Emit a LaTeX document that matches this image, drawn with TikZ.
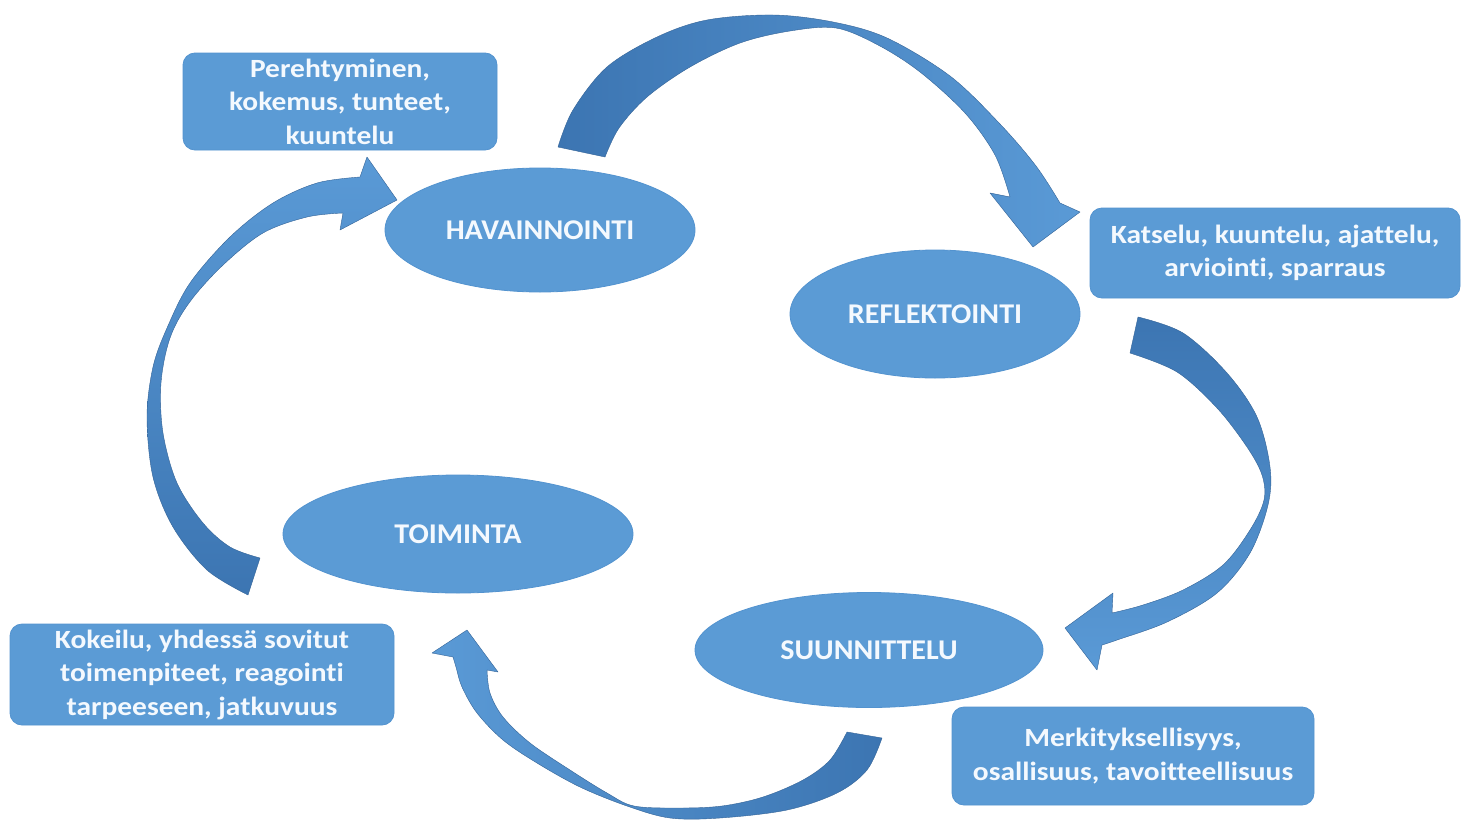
\documentclass[tikz,border=0pt]{standalone}
\usepackage{fontspec}
\setmainfont{Carlito}[Ligatures=NoCommon]
\newfontfamily\boxfont{Carlito}[FakeStretch=1.12, Ligatures=NoCommon]
\newfontfamily\ellfont{Carlito}[FakeStretch=1.05, Ligatures=NoCommon]
\usetikzlibrary{shapes.geometric}
\definecolor{ofblue}{HTML}{5B9BD5}
\definecolor{ofedge}{HTML}{5393CF}
\definecolor{arrdark}{HTML}{3C75B2}
\definecolor{arrlight}{HTML}{5A9AD6}
\definecolor{txt}{HTML}{F4F9FE}
\tikzset{
  ell/.style={ellipse, fill=ofblue, draw=ofedge, line width=0.8pt, text=txt, inner sep=0pt, font=\ellfont\bfseries\fontsize{28.6}{31}\selectfont},
  infobox/.style={rectangle, rounded corners=12pt, fill=ofblue, draw=ofedge, line width=0.8pt, text=txt, inner sep=0pt, align=center, font=\boxfont\bfseries\fontsize{26.3}{33.5}\selectfont},
  cyclearrow/.style={draw=arrdark!85!black, line width=0.4pt, line join=round}
}
\begin{document}
\begin{tikzpicture}[x=1pt,y=-1pt]
\useasboundingbox[fill=white] (0,0) rectangle (1461,819);

% curved arrows
\shade[cyclearrow, left color=arrdark, right color=arrlight]
  plot[smooth, tension=0.55] coordinates {(558,147) (573,110) (607,67) (657,37) (707,20) (773,15) (833,22) (887,38) (950,76) (1000,124) (1036,166) (1060,203)}
  -- (1080,212) -- (1033,247) -- (990,193) -- (1010,197)
  -- plot[smooth, tension=0.55] coordinates {(1010,197) (995,155) (965,113) (920,72) (878,45) (836,28) (790,31) (740,43) (690,67) (647,97) (619,128) (605,157)}
  -- cycle;

\shade[cyclearrow, top color=arrdark, bottom color=arrlight]
  plot[smooth, tension=0.55] coordinates {(1138,317) (1183,333) (1227,373) (1257,417) (1270,467) (1268,505) (1250,553) (1217,593) (1167,622) (1117,640) (1102,645)}
  -- (1097,670) -- (1065,628) -- (1113,593) -- (1112,613)
  -- plot[smooth, tension=0.55] coordinates {(1112,613) (1143,605) (1183,590) (1223,565) (1250,530) (1264,500) (1262,475) (1247,447) (1217,408) (1177,372) (1130,353)}
  -- cycle;

\shade[cyclearrow, left color=arrlight, right color=arrdark]
  plot[smooth, tension=0.55] coordinates {(882,738) (867,770) (837,793) (787,810) (720,818) (670,818) (627,806) (580,787) (537,763) (503,740) (477,713) (462,687) (456,667) (453,657)}
  -- (432,653) -- (467,630) -- (498,672) -- (487,670)
  -- plot[smooth, tension=0.55] coordinates {(487,670) (490,693) (503,717) (530,743) (570,770) (607,793) (634,806) (680,808) (722,806) (763,797) (803,780) (830,760) (847,732)}
  -- cycle;

\shade[cyclearrow, top color=arrlight, bottom color=arrdark]
  plot[smooth, tension=0.55] coordinates {(248,595) (207,570) (173,527) (153,477) (147,417) (153,367) (167,328) (190,283) (230,237) (273,203) (317,183) (360,177)}
  -- (367,157) -- (397,200) -- (340,230) -- (343,213)
  -- plot[smooth, tension=0.55] coordinates {(343,213) (307,217) (263,233) (222,266) (189,303) (170,338) (161,383) (163,433) (177,483) (203,523) (230,547) (260,558)}
  -- cycle;

% ellipses
\node[ell, minimum width=310pt, minimum height=124pt] (hav) at (540,230) {HAVAINNOINTI};
\node[ell, minimum width=290pt, minimum height=128pt] (ref) at (935,314) {REFLEKTOINTI};
\node[ell, minimum width=350pt, minimum height=118pt] (toi) at (458,534) {TOIMINTA};
\node[ell, minimum width=348pt, minimum height=115pt] (suu) at (869,650) {SUUNNITTELU};

% boxes
\node[infobox, minimum width=314pt, minimum height=97pt] (b1) at (340,101.5) {Perehtyminen,\\kokemus, tunteet,\\kuuntelu};
\node[infobox, minimum width=370pt, minimum height=90pt] (b2) at (1275,253) {Katselu, kuuntelu, ajattelu,\\arviointi, sparraus};
\node[infobox, minimum width=384pt, minimum height=101pt] (b3) at (202,674.5) {Kokeilu, yhdessä sovitut\\toimenpiteet, reagointi\\tarpeeseen, jatkuvuus};
\node[infobox, minimum width=362pt, minimum height=98pt] (b4) at (1133,756) {Merkityksellisyys,\\osallisuus, tavoitteellisuus};
\end{tikzpicture}
\end{document}
